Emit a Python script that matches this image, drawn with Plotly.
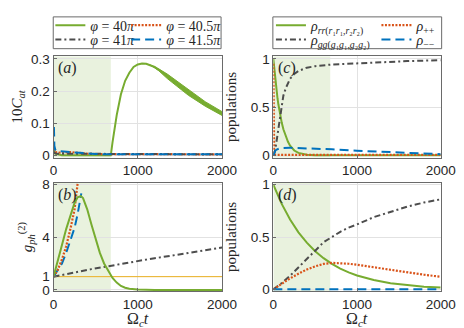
import plotly.graph_objects as go

# ---- data ----
# (a) 10*C_at vs Omega_c t
T_A = [0, 5, 10, 20, 50, 100, 200, 300, 400, 500, 600, 680, 700, 725, 750, 800,
       850, 900, 950, 1000, 1050, 1100, 1200, 1300, 1400, 1500, 1600, 1700, 1800, 1900, 2000]
CAT_40 = [0.01, 0.02, 0.01, 0.005, 0.003, 0, 0, 0, 0, 0, 0, 0, 0.04, 0.085, 0.125, 0.19,
          0.232, 0.257, 0.275, 0.283, 0.286, 0.285, 0.275, 0.257, 0.236, 0.215, 0.195,
          0.176, 0.16, 0.145, 0.13]
CAT_405 = [0.02, 0.018, 0.015, 0.01, 0.009, 0.008, 0.01, 0.007, 0.005, 0.004, 0.004, 0.003,
           0.003, 0.003, 0.003, 0.003, 0.003, 0.003, 0.003, 0.003, 0.003, 0.003, 0.003,
           0.003, 0.003, 0.003, 0.003, 0.003, 0.003, 0.003, 0.003]
CAT_41 = [0.01, 0.008, 0.007, 0.006, 0.005, 0.005, 0.004, 0.004, 0.003, 0.003, 0.003, 0.003,
          0.003, 0.003, 0.003, 0.003, 0.003, 0.003, 0.003, 0.003, 0.003, 0.003, 0.003,
          0.003, 0.003, 0.003, 0.003, 0.003, 0.003, 0.003, 0.003]
CAT_415 = [0.085, 0.085, 0.03, 0.018, 0.013, 0.012, 0.008, 0.006, 0.004, 0.004, 0.003, 0.003,
           0.003, 0.003, 0.003, 0.003, 0.003, 0.003, 0.003, 0.003, 0.003, 0.003, 0.003,
           0.003, 0.003, 0.003, 0.003, 0.003, 0.003, 0.003, 0.003]
# fast-oscillation band of the phi=40pi curve
T_BAND = [1150, 1250, 1350, 1450, 1600, 1800, 2000]
BAND_HI = [0.281, 0.269, 0.253, 0.234, 0.203, 0.167, 0.136]
BAND_LO = [0.281, 0.263, 0.239, 0.218, 0.187, 0.153, 0.124]

# (b) g2_ph vs Omega_c t
T_B = [0, 50, 100, 150, 200, 250, 285, 300, 325, 350, 400, 450, 500, 550, 600, 650,
       700, 750, 800, 850, 900, 1000, 1100, 1200, 1500, 2000]
G2_40 = [1, 2.1, 3.4, 4.6, 5.7, 6.6, 7.0, 7.05, 7.1, 6.95, 6.1, 4.95, 3.8, 2.8, 2.0, 1.4,
         0.9, 0.55, 0.3, 0.16, 0.08, 0.03, 0.01, 0, 0, 0]
G2_41 = [1, 1.07, 1.13, 1.2, 1.27, 1.33, 1.37, 1.39, 1.42, 1.45, 1.51, 1.57, 1.63, 1.69,
         1.75, 1.8, 1.86, 1.91, 1.97, 2.02, 2.08, 2.18, 2.29, 2.39, 2.7, 3.2]
T_B405 = [0, 50, 100, 150, 200, 250, 285, 300, 330, 350]
G2_405 = [1, 1.5, 2.3, 3.3, 4.6, 6.1, 8.0, 8.8, 10.5, 11.8]
T_B415 = [0, 50, 100, 150, 200, 250, 285, 300, 330]
G2_415 = [1, 1.45, 2.0, 2.8, 3.8, 4.7, 5.7, 6.2, 7.3]
T_REF = [0, 2000]
G2_REF = [1, 1]

# (c) populations, short times
T_C = [0, 10, 25, 40, 50, 60, 75, 80, 100, 120, 150, 175, 200, 250, 300, 400, 500,
       700, 1000, 1300, 1600, 2000]
C_RR = [1, 0.9, 0.77, 0.66, 0.59, 0.53, 0.45, 0.43, 0.34, 0.27, 0.19, 0.14, 0.1, 0.05,
        0.025, 0.006, 0.001, 0, 0, 0, 0, 0]
C_GG = [0, 0.02, 0.07, 0.16, 0.23, 0.3, 0.4, 0.43, 0.54, 0.62, 0.7, 0.755, 0.795, 0.845,
        0.875, 0.91, 0.925, 0.943, 0.957, 0.968, 0.978, 0.988]
C_PP = [0.95, 0.005, 0.005, 0.005, 0.005, 0.005, 0.005, 0.005, 0.005, 0.005, 0.005,
        0.005, 0.005, 0.005, 0.005, 0.005, 0.005, 0.005, 0.005, 0.005, 0.005, 0.005]
C_MM = [0, 0.03, 0.05, 0.06, 0.065, 0.068, 0.072, 0.073, 0.075, 0.077, 0.078, 0.078,
        0.078, 0.077, 0.076, 0.074, 0.07, 0.062, 0.048, 0.035, 0.024, 0.012]

# (d) populations, long times
T_D = [0, 100, 200, 300, 400, 500, 600, 700, 800, 900, 1000, 1200, 1400, 1600, 1800, 2000]
D_RR = [1, 0.817, 0.667, 0.545, 0.446, 0.364, 0.298, 0.243, 0.199, 0.162, 0.133, 0.089,
        0.059, 0.039, 0.026, 0.018]
D_GG = [0, 0.06, 0.13, 0.21, 0.3, 0.38, 0.45, 0.5, 0.55, 0.59, 0.62, 0.69, 0.74, 0.79,
        0.83, 0.86]
D_PP = [0, 0.055, 0.105, 0.15, 0.19, 0.22, 0.243, 0.253, 0.252, 0.245, 0.235, 0.21,
        0.185, 0.16, 0.14, 0.12]
D_MM = [0] * len(T_D)

SHADE_END = 680

PHI_NAMES = ["<i>φ</i> = 40<i>π</i>", "<i>φ</i> = 40.5<i>π</i>",
             "<i>φ</i> = 41<i>π</i>", "<i>φ</i> = 41.5<i>π</i>"]
RHO_NAMES = ["<i>ρ</i><sub><i>rr</i>(<i>r</i>₁<i>r</i>₁,<i>r</i>₂<i>r</i>₂)</sub>",
             "<i>ρ</i><sub>++</sub>",
             "<i>ρ</i><sub><i>gg</i>(<i>g</i>₁<i>g</i>₁,<i>g</i>₂<i>g</i>₂)</sub>",
             "<i>ρ</i><sub>−−</sub>"]

# ---- styling ----
GREEN = "#77AC30"
ORANGE = "#D95319"
GRAY = "#4D4D4D"
BLUE = "#0072BD"
YELLOW = "#EDB120"
SHADE = "rgba(119,172,48,0.16)"
SERIF = "Liberation Serif"
SANS = "Liberation Sans"

STYLE = {
    "green": dict(color=GREEN, width=2),
    "orange": dict(color=ORANGE, width=2.2, dash="2px,1.5px"),
    "gray": dict(color=GRAY, width=2, dash="6px,3px,2px,3px"),
    "blue": dict(color=BLUE, width=2, dash="9px,5px"),
}

W, H = 464, 328


def fx(p):
    return p / W


def fy(p):
    return 1 - p / H


fig = go.Figure()


def add(x, y, style, ax, name=None, legend=None):
    fig.add_trace(go.Scatter(
        x=x, y=y, mode="lines", line=STYLE[style] if isinstance(style, str) else style,
        xaxis="x" + ax, yaxis="y" + ax, name=name,
        showlegend=legend is not None, legend=legend or "legend",
        hoverinfo="skip"))


# panel (a)
add(T_A, CAT_40, "green", "", PHI_NAMES[0], "legend")
add(T_A, CAT_405, "orange", "", PHI_NAMES[1], "legend2")
add(T_A, CAT_41, "gray", "", PHI_NAMES[2], "legend3")
add(T_A, CAT_415, "blue", "", PHI_NAMES[3], "legend4")
fig.add_trace(go.Scatter(x=T_BAND, y=BAND_HI, mode="lines", line=dict(color=GREEN, width=1),
                         showlegend=False, hoverinfo="skip"))
fig.add_trace(go.Scatter(x=T_BAND, y=BAND_LO, mode="lines", line=dict(color=GREEN, width=1),
                         fill="tonexty", fillcolor=GREEN, showlegend=False, hoverinfo="skip"))

# panel (b)
add(T_REF, G2_REF, dict(color=YELLOW, width=1), "2")
add(T_B, G2_41, "gray", "2")
add(T_B415, G2_415, "blue", "2")
add(T_B405, G2_405, "orange", "2")
add(T_B, G2_40, "green", "2")

# panel (c)
add(T_C, C_RR, "green", "3", RHO_NAMES[0], "legend5")
add(T_C, C_PP, "orange", "3", RHO_NAMES[1], "legend6")
add(T_C, C_GG, "gray", "3", RHO_NAMES[2], "legend7")
add(T_C, C_MM, "blue", "3", RHO_NAMES[3], "legend8")

# panel (d)
add(T_D, D_RR, "green", "4")
add(T_D, D_GG, "gray", "4")
add(T_D, D_PP, "orange", "4")
add(T_D, D_MM, "blue", "4")

axis_common = dict(showline=True, mirror=True, linecolor="#6a6a6a", linewidth=1,
                   ticks="inside", ticklen=3, tickcolor="#6a6a6a",
                   showgrid=True, gridcolor="#e2e2e2", gridwidth=1, zeroline=False,
                   tickfont=dict(family=SANS, size=13.5, color="#262626"))
xcommon = dict(axis_common, range=[0, 2000], tickvals=[0, 1000, 2000])
title_font = dict(family=SERIF, size=15, color="#262626")

XL, XR = (43.3, 219), (272.5, 447)
YT, YB = (44, 149), (175, 288)

fig.update_layout(
    width=W, height=H, margin=dict(l=0, r=0, t=0, b=0),
    paper_bgcolor="white", plot_bgcolor="white",
    xaxis=dict(xcommon, domain=[fx(XL[0]), fx(XL[1])], anchor="y"),
    yaxis=dict(axis_common, domain=[fy(YT[1]), fy(YT[0])], anchor="x",
               range=[-0.007, 0.308], tickvals=[0, 0.1, 0.2, 0.3],
               ticktext=["0", "0.1", "0.2", "0.3"],
               title=dict(text="10<i>C</i><sub><i>at</i></sub>", font=title_font, standoff=4)),
    xaxis2=dict(xcommon, domain=[fx(XL[0]), fx(XL[1])], anchor="y2"),
    yaxis2=dict(axis_common, domain=[fy(YB[1]), fy(YB[0])], anchor="x2",
                range=[-0.12, 8.12], tickvals=[0, 1, 4, 8],
                title=dict(text="<i>g</i><sub><i>ph</i></sub><sup>(2)</sup>", font=title_font,
                           standoff=6)),
    xaxis3=dict(xcommon, domain=[fx(XR[0]), fx(XR[1])], anchor="y3"),
    yaxis3=dict(axis_common, domain=[fy(YT[1]), fy(YT[0])], anchor="x3",
                range=[-0.023, 1.027], tickvals=[0, 0.5, 1],
                title=dict(text="populations", font=title_font, standoff=10)),
    xaxis4=dict(xcommon, domain=[fx(XR[0]), fx(XR[1])], anchor="y4"),
    yaxis4=dict(axis_common, domain=[fy(YB[1]), fy(YB[0])], anchor="x4",
                range=[-0.02, 1.02], tickvals=[0, 0.5, 1],
                title=dict(text="populations", font=title_font, standoff=10)),
)

# legends: one entry each, laid out as two 2x2 grids
legend_pos = {
    "legend": (40, 12), "legend2": (119, 12), "legend3": (40, 27), "legend4": (119, 27),
    "legend5": (270, 12), "legend6": (380, 12), "legend7": (270, 27), "legend8": (380, 27),
}
for key, (lx, ly) in legend_pos.items():
    fig.update_layout({key: dict(x=fx(lx), y=fy(ly), xanchor="left", yanchor="middle",
                                 bgcolor="rgba(0,0,0,0)", borderwidth=0,
                                 font=dict(family=SERIF, size=14, color="#262626"))})

shapes = [
    dict(type="rect", xref="paper", yref="paper", x0=fx(43), x1=fx(218), y0=fy(36), y1=fy(3),
         line=dict(color="#6a6a6a", width=1)),
    dict(type="rect", xref="paper", yref="paper", x0=fx(272), x1=fx(448), y0=fy(36), y1=fy(3),
         line=dict(color="#6a6a6a", width=1)),
]
for ax in ["", "2", "3", "4"]:
    shapes.append(dict(type="rect", xref="x" + ax, yref=f"y{ax} domain", x0=0, x1=SHADE_END,
                       y0=0, y1=1, fillcolor=SHADE, line=dict(width=0), layer="below"))
fig.update_layout(shapes=shapes)

for ax, lab in zip(["", "2", "3", "4"], ["a", "b", "c", "d"]):
    fig.add_annotation(text=f"(<i>{lab}</i>)", xref=f"x{ax} domain", yref=f"y{ax} domain",
                       x=0.015, y=0.99, xanchor="left", yanchor="top", showarrow=False,
                       font=dict(family=SERIF, size=16, color="#262626"))

# x-axis titles of the bottom row
for ax in ["2", "4"]:
    fig.add_annotation(text="Ω<sub><i>c</i></sub><i>t</i>", xref=f"x{ax} domain", yref="paper",
                       x=0.5, y=fy(317), xanchor="center", yanchor="middle", showarrow=False,
                       font=dict(family=SERIF, size=16, color="#262626"))

fig.write_html("out.html")
